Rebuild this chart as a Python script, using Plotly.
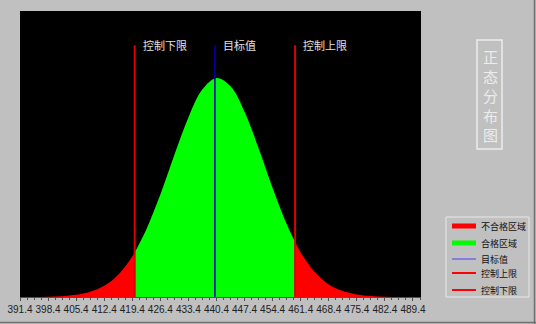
import plotly.graph_objects as go

# x positions and curve heights (relative)
xs = [391.4, 394.9, 398.4, 401.9, 405.4, 408.9, 412.4, 415.9, 419.4, 420.0,
      422.9, 426.4, 429.9, 433.4, 436.9, 440.4, 443.9, 447.4, 450.9, 454.4,
      457.9, 460.0, 461.4, 464.9, 468.4, 471.9, 475.4, 478.9, 482.4, 485.9, 489.4]
ys = [0.0001, 0.0003, 0.0010, 0.0029, 0.0075, 0.018, 0.039, 0.078, 0.142, 0.156,
      0.236, 0.358, 0.497, 0.628, 0.726, 0.766, 0.737, 0.648, 0.520, 0.381,
      0.255, 0.192, 0.156, 0.087, 0.044, 0.021, 0.0087, 0.0034, 0.0012, 0.0004, 0.0001]

lsl = 420.0
target = 440.0
usl = 460.0
line_top = 0.88

tick_vals = [391.4, 398.4, 405.4, 412.4, 419.4, 426.4, 433.4, 440.4, 447.4,
             454.4, 461.4, 468.4, 475.4, 482.4, 489.4]
tick_text = [f"{v:.1f}" for v in tick_vals]

legend_names = ["不合格区域", "合格区域", "目标值", "控制上限", "控制下限"]
title_chars = ["正", "态", "分", "布", "图"]

RED = "#ff0000"
GREEN = "#00ff00"
BLUE = "#0000b0"
CJK = "Noto Sans CJK SC"

W, H = 536, 324
ML, MR, MT, MB = 20, 115, 11, 27
PW, PH = W - ML - MR, H - MT - MB


def px(xp):
    return (xp - ML) / PW


def py(yp):
    return (H - MB - yp) / PH


left = [(x, y) for x, y in zip(xs, ys) if x <= lsl]
mid = [(x, y) for x, y in zip(xs, ys) if lsl <= x <= usl]
right = [(x, y) for x, y in zip(xs, ys) if x >= usl]

fig = go.Figure()
for seg, col in [(left, RED), (mid, GREEN), (right, RED)]:
    fig.add_trace(go.Scatter(
        x=[p[0] for p in seg], y=[p[1] for p in seg],
        mode="lines", line=dict(color=col, width=0, shape="spline"),
        fill="tozeroy", fillcolor=col, showlegend=False, hoverinfo="skip"))

# vertical lines
fig.add_trace(go.Scatter(x=[lsl, lsl], y=[0, line_top], mode="lines",
                         line=dict(color="#e00000", width=2), showlegend=False))
fig.add_trace(go.Scatter(x=[target, target], y=[0, line_top], mode="lines",
                         line=dict(color=BLUE, width=1.5), showlegend=False))
fig.add_trace(go.Scatter(x=[usl, usl], y=[0, line_top], mode="lines",
                         line=dict(color="#e00000", width=2), showlegend=False))

for xv, txt in [(lsl, "控制下限"), (target, "目标值"), (usl, "控制上限")]:
    fig.add_annotation(x=xv, y=line_top, xref="x", yref="y", text=txt,
                       showarrow=False, xanchor="left", yanchor="middle",
                       xshift=6, font=dict(family=CJK, size=11, color="#e0e0e0"))

# title box
fig.add_annotation(x=px(490), y=py(95), xref="paper", yref="paper",
                   text="<br>".join(title_chars), showarrow=False,
                   xanchor="center", yanchor="middle",
                   font=dict(family=CJK, size=15, color="#ececec"))
fig.add_shape(type="rect", xref="paper", yref="paper",
              x0=px(477), x1=px(502), y0=py(149), y1=py(40),
              line=dict(color="#ececec", width=1.5))

# hand-drawn legend
fig.add_shape(type="rect", xref="paper", yref="paper",
              x0=px(446), x1=px(529), y0=py(297), y1=py(217),
              line=dict(color="#e8e8e8", width=1))
leg_y = [226, 243, 259, 273, 290]
leg_styles = [("bar", RED), ("bar", GREEN), ("line1", "#4040ff"),
              ("line2", RED), ("line2", RED)]
for name, yc, (kind, col) in zip(legend_names, leg_y, leg_styles):
    if kind == "bar":
        fig.add_shape(type="rect", xref="paper", yref="paper",
                      x0=px(452), x1=px(476), y0=py(yc + 2.5), y1=py(yc - 2.5),
                      fillcolor=col, line=dict(width=0))
    else:
        fig.add_shape(type="line", xref="paper", yref="paper",
                      x0=px(452), x1=px(476), y0=py(yc), y1=py(yc),
                      line=dict(color=col, width=1 if kind == "line1" else 2))
    fig.add_annotation(x=px(479), y=py(yc), xref="paper", yref="paper",
                       text=name, showarrow=False, xanchor="left",
                       yanchor="middle",
                       font=dict(family=CJK, size=9, color="#101010"))

# page edge shading
fig.add_shape(type="line", xref="paper", yref="paper",
              x0=px(0), x1=px(536), y0=py(322.5), y1=py(322.5),
              line=dict(color="#707070", width=1.5))
fig.add_shape(type="line", xref="paper", yref="paper",
              x0=px(534.5), x1=px(534.5), y0=py(0), y1=py(324),
              line=dict(color="#707070", width=1.5))

fig.update_layout(
    width=W, height=H,
    margin=dict(l=ML, r=MR, t=MT, b=MB, autoexpand=False),
    paper_bgcolor="#c0c0c0", plot_bgcolor="#000000",
    showlegend=False,
    xaxis=dict(range=[391.4, 491.4], tickvals=tick_vals, ticktext=tick_text,
               tickangle=0, automargin=False,
               showgrid=False, zeroline=False, ticks="outside", ticklen=3,
               tickcolor="#505050", showline=True, linecolor="#505050",
               minor=dict(tick0=391.4, dtick=1.75, ticks="outside",
                          ticklen=2, tickcolor="#505050", showgrid=False),
               tickfont=dict(family="Liberation Sans", size=10, color="#202020")),
    yaxis=dict(range=[0, 1], visible=False, showgrid=False, zeroline=False),
)

fig.write_html("out.html")
